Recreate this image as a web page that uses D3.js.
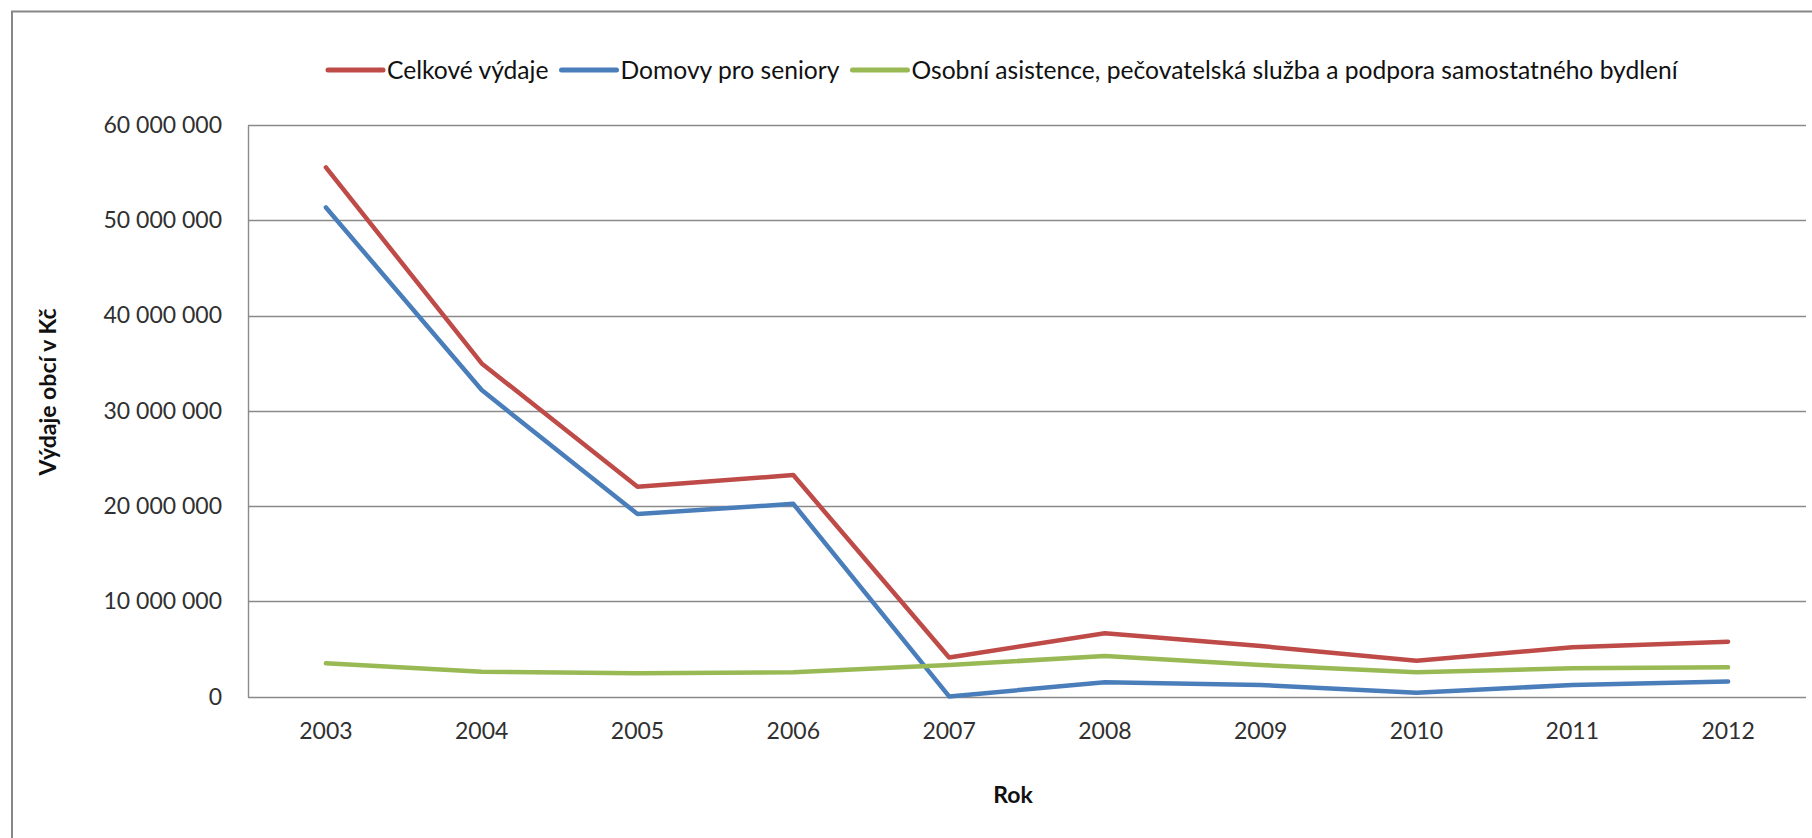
<!DOCTYPE html>
<html>
<head>
<meta charset="utf-8">
<script src="https://cdn.jsdelivr.net/npm/d3@7"></script>
<style>
  html, body { margin: 0; padding: 0; background: #fff; }
  svg { display: block; font-family: Lato, "Open Sans", sans-serif; }
</style>
</head>
<body>
<svg id="chart" width="1812" height="838"></svg>
<script>
// ---- data ----
const years = ["2003","2004","2005","2006","2007","2008","2009","2010","2011","2012"];
const celkoveVydaje = [55550000, 34980000, 22040000, 23260000, 4120000, 6650000, 5320000, 3780000, 5180000, 5770000];
const domovyProSeniory = [51350000, 32180000, 19170000, 20240000, 30000, 1510000, 1230000, 420000, 1230000, 1600000];
const osobniAsistence = [3500000, 2630000, 2450000, 2560000, 3330000, 4270000, 3330000, 2560000, 2980000, 3100000];
const seriesNames = ["Celkové výdaje", "Domovy pro seniory", "Osobní asistence, pečovatelská služba a podpora samostatného bydlení"];
const yTicks = [0, 10000000, 20000000, 30000000, 40000000, 50000000, 60000000];
const yTitle = "Výdaje obcí v Kč";
const xTitle = "Rok";

const colors = ["#BE4B48", "#4A7EBB", "#98B954"];
const seriesValues = [celkoveVydaje, domovyProSeniory, osobniAsistence];

// ---- layout ----
const svg = d3.select("#chart");
const plot = { left: 248, right: 1806, top: 125, bottom: 696.7 };

// outer chart border (only left/top visible in frame)
svg.append("rect")
  .attr("x", 12).attr("y", 11.5)
  .attr("width", 1900).attr("height", 900)
  .attr("fill", "none").attr("stroke", "#878787").attr("stroke-width", 2);

const x = d3.scaleBand().domain(years).range([plot.left, plot.right]).paddingInner(0).paddingOuter(0);
const y = d3.scaleLinear().domain([0, 60000000]).range([plot.bottom, plot.top]);

const locale = d3.formatLocale({ decimal: ",", thousands: " ", grouping: [3], currency: ["", ""] });
const fmt = locale.format(",d");

// gridlines
svg.append("g").selectAll("line").data(yTicks).join("line")
  .attr("x1", plot.left).attr("x2", plot.right)
  .attr("y1", d => Math.round(y(d)) + 0.5).attr("y2", d => Math.round(y(d)) + 0.5)
  .attr("stroke", "#8a8a8a").attr("stroke-width", 1.4);

// left axis line
svg.append("line")
  .attr("x1", plot.left + 0.5).attr("x2", plot.left + 0.5)
  .attr("y1", Math.round(y(60000000)) + 0.5).attr("y2", Math.round(y(0)) + 0.5)
  .attr("stroke", "#8a8a8a").attr("stroke-width", 1.4);

// y axis labels
const yAxis = svg.append("g")
  .attr("transform", `translate(${plot.left},0)`)
  .call(d3.axisLeft(y).tickValues(yTicks).tickFormat(fmt).tickSize(0).tickPadding(26));
yAxis.select(".domain").remove();
yAxis.selectAll("text")
  .attr("font-family", "Lato, sans-serif").attr("font-size", 23).attr("fill", "#303030");

// x axis labels
const xAxis = svg.append("g")
  .attr("transform", `translate(0,${plot.bottom})`)
  .call(d3.axisBottom(x).tickSize(0).tickPadding(26));
xAxis.select(".domain").remove();
xAxis.selectAll("text")
  .attr("font-family", "Lato, sans-serif").attr("font-size", 23).attr("fill", "#303030");

// lines
const line = d3.line()
  .x((d, i) => x(years[i]) + x.bandwidth() / 2)
  .y(d => y(d));

svg.append("g").selectAll("path").data(seriesValues).join("path")
  .attr("d", d => line(d))
  .attr("fill", "none")
  .attr("stroke", (d, i) => colors[i])
  .attr("stroke-width", 4.5)
  .attr("stroke-linejoin", "round")
  .attr("stroke-linecap", "round");

// axis titles
svg.append("text")
  .attr("transform", "translate(48,392) rotate(-90)")
  .attr("text-anchor", "middle").attr("dy", "0.35em")
  .attr("font-family", "Lato, sans-serif").attr("font-weight", "bold").attr("font-size", 23)
  .attr("fill", "#111")
  .text(yTitle);

svg.append("text")
  .attr("x", 1013).attr("y", 795)
  .attr("text-anchor", "middle").attr("dy", "0.35em")
  .attr("font-family", "Lato, sans-serif").attr("font-weight", "bold").attr("font-size", 23)
  .attr("fill", "#111")
  .text(xTitle);

// legend
const legendY = 70;
const legendStart = 328, legendEnd = 1678;
const symLen = 55, symGap = 4, itemGap = 13;
const legend = svg.append("g");
const items = legend.selectAll("g").data(seriesNames).join("g");
items.append("line")
  .attr("x1", 0).attr("x2", symLen).attr("y1", legendY).attr("y2", legendY)
  .attr("stroke", (d, i) => colors[i]).attr("stroke-width", 5).attr("stroke-linecap", "round");
const ltexts = items.append("text")
  .attr("x", symLen + symGap).attr("y", legendY).attr("dy", "0.35em")
  .attr("font-family", "Lato, sans-serif").attr("font-size", 100).attr("fill", "#111")
  .text(d => d);
// fit legend font to available span
let totalAt100 = 0;
ltexts.each(function () { totalAt100 += this.getComputedTextLength(); });
const textSpace = (legendEnd - legendStart) - seriesNames.length * (symLen + symGap) - (seriesNames.length - 1) * itemGap;
const lfs = Math.min(26, 100 * textSpace / totalAt100);
ltexts.attr("font-size", lfs);
let cx = legendStart;
items.each(function () {
  const g = d3.select(this);
  g.attr("transform", `translate(${cx},0)`);
  const w = g.select("text").node().getComputedTextLength();
  cx += symLen + symGap + w + itemGap;
});
</script>
</body>
</html>
